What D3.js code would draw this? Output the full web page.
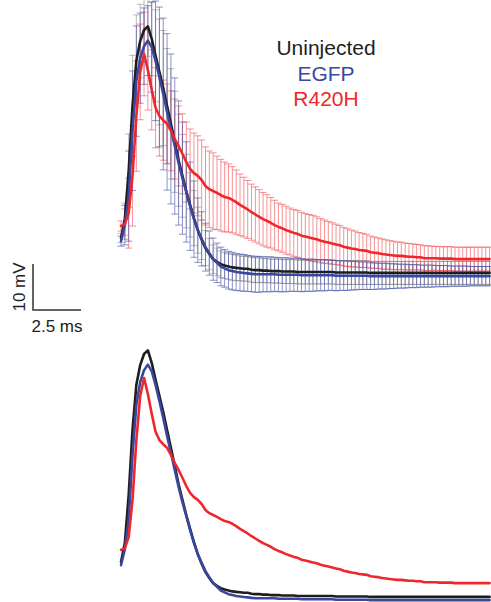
<!DOCTYPE html>
<meta charset="utf-8">
<html>
<head>
<style>
  body { margin: 0; background: #fff; }
  svg { display: block; font-family: "Liberation Sans", Arial, sans-serif; }
</style>
</head>
<body>
<svg width="491" height="602"></svg>
<script src="https://d3js.org/d3.v7.min.js"></script>
<script>
  // sample times (ms) and mean membrane potential (mV) for each group
  const timeMs = [0,0.2,0.4,0.6,0.8,1,1.2,1.4,1.6,1.8,
    2,2.2,2.4,2.6,2.8,3,3.2,3.4,3.6,3.8,
    4,4.2,4.4,4.6,4.8,5,5.2,5.4,5.6,5.8,
    6,6.2,6.4,6.6,6.8,7,7.2,7.4,7.6,7.8,
    8,8.2,8.4,8.6,8.8,9,9.2,9.4,9.6,9.8,
    10,10.2,10.4,10.6,10.8,11,11.2,11.4,11.6,11.8,
    12,12.2,12.4,12.6,12.8,13,13.2,13.4,13.6,13.8,
    14,14.2,14.4,14.6,14.8,15,15.2,15.4,15.6,15.8,
    16,16.2,16.4,16.6,16.8,17,17.2,17.4,17.6,17.8,
    18,18.2,18.4,18.6,18.8,19,19.2];

  const uninjected = [-62.6,-58.5,-48.0,-33.9,-24.1,-19.8,-17.4,-16.6,-19.3,-23.0,
    -26.5,-30.0,-33.9,-37.8,-41.7,-45.7,-49.1,-52.4,-55.4,-58.3,
    -60.9,-63.0,-64.8,-66.1,-67.2,-67.8,-68.3,-68.6,-68.8,-69.0,
    -69.1,-69.2,-69.3,-69.3,-69.5,-69.6,-69.6,-69.7,-69.7,-69.8,
    -69.8,-69.8,-69.9,-69.9,-69.9,-69.9,-70.0,-70.0,-70.0,-70.0,
    -70.0,-70.0,-70.0,-70.0,-70.0,-70.0,-70.1,-70.1,-70.1,-70.1,
    -70.1,-70.1,-70.1,-70.1,-70.1,-70.2,-70.2,-70.2,-70.2,-70.2,
    -70.2,-70.2,-70.2,-70.2,-70.2,-70.2,-70.2,-70.2,-70.2,-70.2,
    -70.2,-70.2,-70.2,-70.2,-70.2,-70.2,-70.2,-70.2,-70.2,-70.2,
    -70.2,-70.2,-70.2,-70.2,-70.2,-70.2,-70.2];

  const egfp = [-63.3,-59.8,-53.5,-39.3,-28.5,-23.5,-20.9,-19.7,-21.1,-24.1,
    -27.6,-31.3,-35.2,-38.9,-42.6,-46.3,-49.6,-52.6,-55.7,-58.5,
    -60.9,-62.8,-64.6,-65.9,-67.2,-68.0,-68.8,-69.2,-69.6,-69.8,
    -70.0,-70.1,-70.2,-70.3,-70.4,-70.5,-70.5,-70.5,-70.5,-70.5,
    -70.5,-70.6,-70.6,-70.6,-70.6,-70.6,-70.6,-70.7,-70.7,-70.7,
    -70.7,-70.7,-70.7,-70.7,-70.7,-70.7,-70.8,-70.8,-70.8,-70.8,
    -70.8,-70.8,-70.8,-70.8,-70.8,-70.9,-70.9,-70.9,-70.9,-70.9,
    -70.9,-70.9,-70.9,-70.9,-70.9,-70.9,-70.9,-70.9,-70.9,-70.9,
    -70.9,-70.9,-70.9,-70.9,-70.9,-70.9,-70.9,-70.9,-70.9,-70.9,
    -70.9,-70.9,-70.9,-70.9,-70.9,-70.9,-70.9];

  const r420h = [-60.0,-59.6,-57.2,-49.1,-36.1,-26.5,-22.6,-26.1,-30.4,-34.3,
    -36.1,-37.0,-37.8,-39.3,-41.1,-42.6,-44.3,-46.1,-47.6,-48.5,
    -49.1,-50.0,-51.3,-52.0,-52.4,-52.8,-53.3,-53.7,-53.9,-54.3,
    -54.8,-55.4,-55.9,-56.4,-57.0,-57.5,-58.0,-58.5,-58.9,-59.3,
    -59.8,-60.2,-60.5,-60.9,-61.2,-61.5,-61.7,-62.1,-62.3,-62.5,
    -62.7,-62.9,-63.2,-63.4,-63.6,-63.8,-64.0,-64.2,-64.5,-64.7,
    -64.9,-65.0,-65.2,-65.3,-65.4,-65.7,-65.8,-65.9,-66.1,-66.2,
    -66.3,-66.4,-66.5,-66.5,-66.6,-66.7,-66.7,-66.8,-66.8,-67.0,
    -67.0,-67.0,-67.0,-67.1,-67.1,-67.1,-67.1,-67.2,-67.2,-67.2,
    -67.2,-67.2,-67.2,-67.2,-67.2,-67.2,-67.2];

  // SEM (mV)
  const uninjectedSem = [1.0,3.5,8.0,11.0,10.0,8.0,7.0,6.5,8.0,10.0,
    11.5,12.5,12.5,12.0,11.0,10.0,9.0,8.0,7.0,6.0,
    5.0,4.3,3.8,3.4,3.1,3.0,2.9,2.8,2.8,2.8,
    2.8,2.7,2.7,2.7,2.7,2.7,2.7,2.6,2.6,2.6,
    2.6,2.6,2.6,2.6,2.6,2.6,2.6,2.6,2.6,2.6,
    2.6,2.6,2.6,2.6,2.6,2.6,2.6,2.6,2.6,2.6,
    2.6,2.6,2.6,2.6,2.6,2.5,2.5,2.5,2.5,2.5,
    2.5,2.5,2.5,2.5,2.5,2.5,2.5,2.5,2.5,2.5,
    2.5,2.5,2.5,2.5,2.5,2.5,2.5,2.5,2.5,2.5,
    2.5,2.5,2.5,2.5,2.5,2.5,2.5];

  const egfpSem = [1.1,4.3,9.8,13.0,12.0,9.8,8.3,7.6,9.8,13.0,
    15.2,16.5,17.0,16.3,14.8,13.5,12.2,10.9,9.6,8.3,
    7.0,5.9,5.2,4.8,4.6,4.3,4.2,4.1,4.1,4.1,
    4.0,4.0,4.0,3.9,3.9,3.9,3.9,3.8,3.8,3.8,
    3.7,3.7,3.7,3.7,3.6,3.6,3.6,3.6,3.5,3.5,
    3.5,3.4,3.4,3.4,3.3,3.3,3.3,3.2,3.2,3.2,
    3.1,3.1,3.0,3.0,3.0,2.9,2.9,2.8,2.8,2.8,
    2.7,2.7,2.6,2.6,2.6,2.5,2.5,2.5,2.4,2.4,
    2.4,2.4,2.3,2.3,2.3,2.3,2.2,2.2,2.2,2.2,
    2.2,2.1,2.1,2.1,2.1,2.1,2.1];

  const r420hSem = [1.1,3.3,7.6,10.9,12.0,10.4,9.1,8.7,8.7,8.7,
    8.7,8.7,8.7,8.7,8.7,8.7,8.7,8.7,8.7,8.7,
    8.7,8.7,8.5,8.3,8.3,8.0,7.8,7.6,7.4,7.2,
    7.0,6.7,6.5,6.3,6.1,6.0,5.9,5.8,5.7,5.5,
    5.4,5.2,5.2,5.2,5.1,5.1,5.1,5.1,5.0,5.0,
    5.0,4.9,4.8,4.7,4.6,4.5,4.4,4.3,4.2,4.1,
    4.0,3.9,3.8,3.7,3.6,3.5,3.4,3.3,3.3,3.2,
    3.1,3.1,3.0,3.0,2.9,2.9,2.8,2.8,2.7,2.7,
    2.7,2.6,2.6,2.6,2.6,2.6,2.6,2.6,2.6,2.6,
    2.6,2.6,2.6,2.6,2.6,2.6,2.6];

  const groups = ["Uninjected", "EGFP", "R420H"];
  const scaleBar = { mV: 10, ms: 2.5 };
  const scaleLabels = ["10 mV", "2.5 ms"];

  const series = [
    { name: "Uninjected", mean: uninjected, sem: uninjectedSem, color: "#1e1e1e", bar: "#6a6a6a", barOpacity: 0.45 },
    { name: "EGFP", mean: egfp, sem: egfpSem, color: "#3a479f", bar: "#3f4ca5", barOpacity: 0.6 },
    { name: "R420H", mean: r420h, sem: r420hSem, color: "#ef272c", bar: "#f03a3f", barOpacity: 0.55 }
  ];

  const svg = d3.select("svg");
  svg.append("rect").attr("width", 491).attr("height", 602).attr("fill", "#fff");

  const x = d3.scaleLinear().domain([0, 19.2]).range([121, 489.6]);
  const yTop = d3.scaleLinear().domain([-70, -20]).range([272, 42]);
  const yBottom = yTop.copy().range([596, 366]);

  // top panel: error bars (black, red, then blue on top), then means
  const topPanel = svg.append("g");
  const capW = 3.5;
  [series[0], series[2], series[1]].forEach(s => {
    const g = topPanel.append("g")
      .attr("stroke", s.bar)
      .attr("stroke-opacity", s.barOpacity)
      .attr("stroke-width", 1)
      .attr("fill", "none");
    const pts = timeMs.map((t, i) => ({ t, m: s.mean[i], e: s.sem[i] }));
    g.selectAll("path")
      .data(pts)
      .join("path")
      .attr("d", d => {
        const cx = x(d.t), y1 = yTop(d.m + d.e), y2 = yTop(d.m - d.e);
        return `M${cx},${y1}V${y2}M${cx - capW},${y1}H${cx + capW}M${cx - capW},${y2}H${cx + capW}`;
      });
  });

  function drawMeans(g, y) {
    series.forEach(s => {
      const line = d3.line()
        .x((d, i) => x(timeMs[i]))
        .y(d => y(d));
      g.append("path")
        .datum(s.mean)
        .attr("d", line)
        .attr("fill", "none")
        .attr("stroke", s.color)
        .attr("stroke-width", 2.6)
        .attr("stroke-linejoin", "round")
        .attr("stroke-linecap", "round");
    });
  }
  drawMeans(topPanel, yTop);
  drawMeans(svg.append("g"), yBottom);

  // legend
  const legend = svg.append("g")
    .attr("font-size", 21)
    .attr("text-anchor", "middle");
  groups.forEach((name, i) => {
    legend.append("text")
      .attr("x", 326)
      .attr("y", 55 + i * 25.5)
      .attr("fill", series.find(s => s.name === name).color)
      .text(name);
  });

  // scale bar
  const ox = 33, oy = 310;
  const vLen = yTop(-70) - yTop(-70 + scaleBar.mV);
  const hLen = x(scaleBar.ms) - x(0);
  svg.append("path")
    .attr("d", `M${ox},${oy - vLen}V${oy}H${ox + hLen}`)
    .attr("fill", "none")
    .attr("stroke", "#333")
    .attr("stroke-width", 1.5);
  svg.append("text")
    .attr("transform", `translate(${ox - 8},${oy - vLen / 2}) rotate(-90)`)
    .attr("text-anchor", "middle")
    .attr("font-size", 17)
    .attr("fill", "#222")
    .text(scaleLabels[0]);
  svg.append("text")
    .attr("x", ox + hLen / 2)
    .attr("y", oy + 22)
    .attr("text-anchor", "middle")
    .attr("font-size", 17)
    .attr("fill", "#222")
    .text(scaleLabels[1]);
</script>
</body>
</html>
